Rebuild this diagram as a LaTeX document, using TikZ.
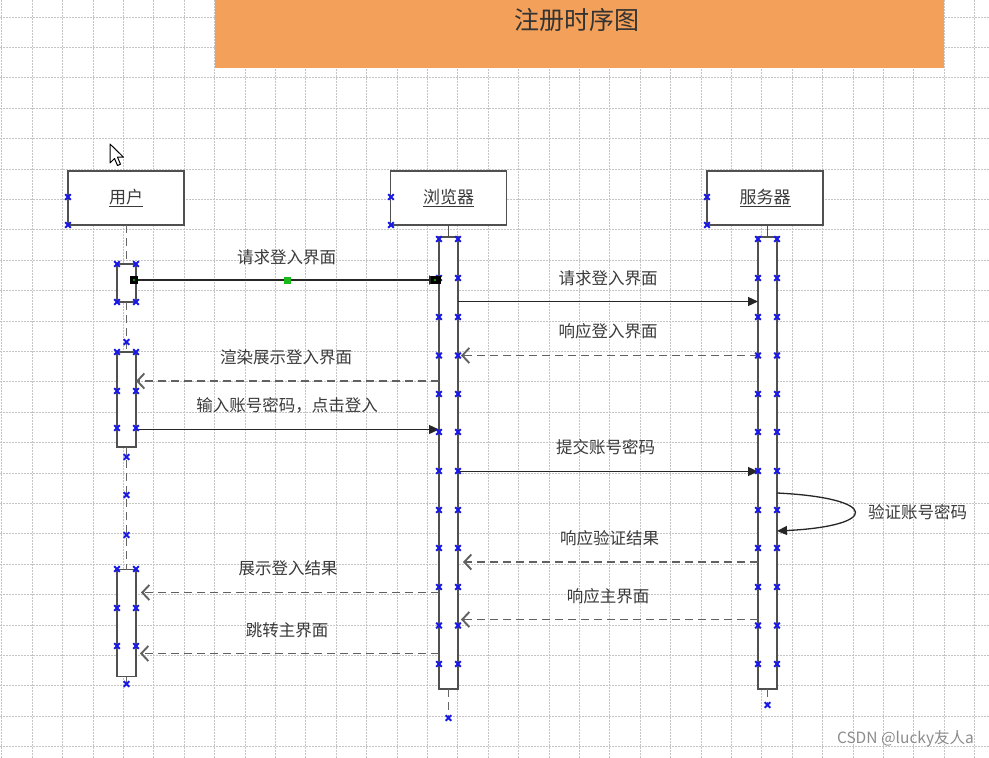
\documentclass[tikz,border=0pt]{standalone}
\usepackage{fontspec}
\setmainfont{Noto Sans CJK SC}
\usetikzlibrary{arrows.meta}
\definecolor{orangebg}{HTML}{F2A05A}
\definecolor{lineg}{HTML}{505050}
\definecolor{txt}{HTML}{3A3A3A}
\definecolor{mkblue}{HTML}{1818E8}
\definecolor{gridc}{HTML}{C4C4C4}
\begin{document}
\begin{tikzpicture}[x=1pt,y=-1pt,
 gridline/.style={draw=gridc, line width=0.8pt, dash pattern=on 2pt off 1pt},
 actorbox/.style={draw=lineg, line width=1.6pt, fill=white, minimum width=116pt, minimum height=54pt, inner sep=0pt, outer sep=0pt, font=\fontsize{17}{19}\selectfont, text=txt},
 actbar/.style={draw=lineg, line width=1.6pt, fill=white, minimum width=19pt, inner sep=0pt, outer sep=0pt},
 msg/.style={draw=black!85, line width=1.3pt, -{Triangle[length=10pt,width=9pt]}},
 ret/.style={draw=black!62, line width=1.9pt, dash pattern=on 8pt off 5pt, -{Straight Barb[length=7pt,width=15pt]}},
 lbl/.style={font=\fontsize{16.5}{18}\selectfont, text=txt, inner sep=0pt},
 life/.style={draw=black!60, line width=1.8pt, dash pattern=on 8pt off 5pt},
 mk/.style={draw=mkblue, line width=1.9pt}]
\useasboundingbox (0,0) rectangle (989,758);
\fill[white] (0,0) rectangle (989,758);
% grid
\foreach \i in {0,...,32} \draw[gridline] ({1.7+30.4*\i},0) -- ({1.7+30.4*\i},758);
\foreach \j in {0,...,24} \draw[gridline] (0,{17+30.4*\j}) -- (989,{17+30.4*\j});
% title
\node[fill=orangebg, minimum width=729pt, minimum height=68pt, inner sep=0pt, outer sep=0pt] (titlebox) at (579.5,34) {};
\node[font=\fontsize{25}{27}\selectfont, text=black!80, inner sep=0pt] (title) at (576.5,20) {注册时序图};
% cursor
\draw[black, line width=1pt, fill=white, line join=round] (110,144) -- (110,163) -- (114.5,158.5) -- (117.5,165.5) -- (120.5,164.2) -- (117.5,157.2) -- (123.5,157.2) -- cycle;
% actors
\node[actorbox] (user) at (126,198) {\underline{用户}};
\node[actorbox] (browser) at (448.5,198) {\underline{浏览器}};
\node[actorbox] (server) at (765,198) {\underline{服务器}};
% activation bars
\node[actbar, minimum height=38pt] (ua1) at (126.5,283) {};
\node[actbar, minimum height=95pt] (ua2) at (126.5,399.5) {};
\node[actbar, minimum height=107pt] (ua3) at (126.5,623) {};
\node[actbar, minimum height=452pt] (ba) at (448.5,463) {};
\node[actbar, minimum height=452pt] (sa) at (767.5,463) {};
\coordinate (uend) at (126.5,684);
\coordinate (bend) at (448.5,718);
\coordinate (send) at (767.5,705);
% lifelines
\draw[life] (user.south -| ua1.north) -- (ua1.north);
\draw[life] (ua1.south) -- (ua2.north);
\draw[life] (ua2.south) -- (ua3.north);
\draw[life] (ua3.south) -- (uend);
\draw[lineg, line width=1.6pt] (browser.south -| ba.north) -- (ba.north);
\draw[lineg, line width=1.6pt] (server.south -| sa.north) -- (sa.north);
\draw[life] (ba.south) -- (bend);
\draw[life] (sa.south) -- (send);
% messages
\draw[msg] (ua1.east |- 0,280) -- (ba.west |- 0,280);
\node[lbl] (l1) at (286.5,257) {请求登入界面};
\draw[msg] (ba.east |- 0,301.5) -- (sa.west |- 0,301.5);
\node[lbl] (l2) at (608,278.5) {请求登入界面};
\draw[ret, shorten >=3pt] (sa.west |- 0,355.5) -- (ba.east |- 0,355.5);
\node[lbl] (l3) at (608,331.5) {响应登入界面};
\draw[ret] (ba.west |- 0,381) -- (ua2.east |- 0,381);
\node[lbl] (l4) at (286,357) {渲染展示登入界面};
\draw[msg] (ua2.east |- 0,429.5) -- (ba.west |- 0,429.5);
\node[lbl] (l5) at (287,405.5) {输入账号密码，点击登入};
\draw[msg] (ba.east |- 0,471.5) -- (sa.west |- 0,471.5);
\node[lbl] (l6) at (605.5,447) {提交账号密码};
\draw[msg] (sa.east |- 0,493) .. controls (880,498) and (880,526) .. (sa.east |- 0,531);
\node[lbl] (l7) at (917.5,512) {验证账号密码};
\draw[ret, shorten >=5pt] (sa.west |- 0,562) -- (ba.east |- 0,562);
\node[lbl] (l8) at (609.5,538) {响应验证结果};
\draw[ret, shorten >=5pt] (ba.west |- 0,592.5) -- (ua3.east |- 0,592.5);
\node[lbl] (l9) at (288,568) {展示登入结果};
\draw[ret, shorten >=3pt] (sa.west |- 0,619.5) -- (ba.east |- 0,619.5);
\node[lbl] (l10) at (608,596) {响应主界面};
\draw[ret, shorten >=4pt] (ba.west |- 0,653.5) -- (ua3.east |- 0,653.5);
\node[lbl] (l11) at (287,630) {跳转主界面};
% connection-point markers
\foreach \p in {{68,197},{68,225},{391,197},{391,225},{707,197},{707,225},
  {117,264},{136,264},{117,302},{136,302},{126.5,342},
  {117,352},{136,352},{117,391},{136,391},{117,428},{136,428},
  {126.5,457},{126.5,495},{126.5,535},
  {117,569},{136,569},{117,608},{136,608},{117,646},{136,646},{126.5,684},
  {448.5,718},{767.5,705}}
  \draw[mk] (\p) ++(-2.8,-2.8) -- ++(5.6,5.6) ++(-5.6,0) -- ++(5.6,-5.6);
\foreach \y in {239,278,317,355.5,394,432,471,510,548,587,625.5,664}{
  \draw[mk] (439,\y) ++(-2.8,-2.8) -- ++(5.6,5.6) ++(-5.6,0) -- ++(5.6,-5.6);
  \draw[mk] (458,\y) ++(-2.8,-2.8) -- ++(5.6,5.6) ++(-5.6,0) -- ++(5.6,-5.6);
  \draw[mk] (758,\y) ++(-2.8,-2.8) -- ++(5.6,5.6) ++(-5.6,0) -- ++(5.6,-5.6);
  \draw[mk] (777,\y) ++(-2.8,-2.8) -- ++(5.6,5.6) ++(-5.6,0) -- ++(5.6,-5.6);
}
% selection handles of the first message
\fill[black] (130,276) rectangle (138,284);
\fill[green!60!black] (133,279) rectangle (135,281);
\fill[black] (431,276) rectangle (441,284);
\fill[green!60!black] (434,279) rectangle (436,281);
\fill[green!70!black!90] (283.5,276.5) rectangle (290.5,283.5);
% watermark
\node[anchor=east, font=\fontsize{15.5}{17}\selectfont, text=black!45, inner sep=0pt] (wm) at (974,739) {CSDN @lucky友人a};
\end{tikzpicture}
\end{document}
